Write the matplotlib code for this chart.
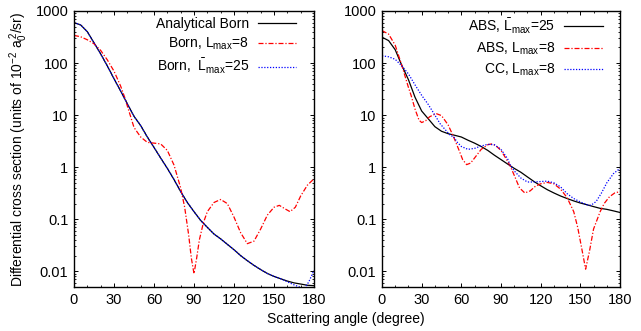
import matplotlib
matplotlib.use("Agg")
import matplotlib.pyplot as plt
from matplotlib.ticker import FixedLocator, LogLocator, NullFormatter, MultipleLocator

plt.rcParams['font.family'] = ['Liberation Sans', 'DejaVu Sans']
plt.rcParams['mathtext.fontset'] = 'custom'
plt.rcParams['mathtext.rm'] = 'Liberation Sans'
plt.rcParams['mathtext.it'] = 'Liberation Sans:italic'
plt.rcParams['font.size'] = 10

# ---- left panel: Born ----
ang_born = [0, 5, 10, 15, 20, 25, 30, 35, 40, 45, 50, 55, 60, 65, 70, 75, 80, 85,
            90, 95, 100, 105, 110, 115, 120, 125, 130, 135, 140, 145, 150, 155,
            160, 165, 170, 175, 180]
analytical_born = [600, 540, 400, 245, 150, 88, 50, 29, 16.5, 9.5, 6.3, 3.8, 2.4,
                   1.5, 0.95, 0.58, 0.34, 0.21, 0.14, 0.095, 0.070, 0.052, 0.042,
                   0.033, 0.026, 0.020, 0.016, 0.013, 0.0108, 0.0091, 0.0080,
                   0.0072, 0.0065, 0.0060, 0.0057, 0.0054, 0.0053]

ang_born25 = [0, 5, 10, 15, 20, 25, 30, 35, 40, 45, 50, 55, 60, 65, 70, 75, 80, 85,
              90, 95, 100, 105, 110, 115, 120, 125, 130, 135, 140, 145, 150, 155,
              160, 165, 170, 173, 176, 178, 180]
born_l25 = [600, 540, 400, 245, 150, 88, 50, 29, 16.5, 9.5, 6.3, 3.8, 2.4,
            1.5, 0.95, 0.58, 0.34, 0.21, 0.14, 0.095, 0.070, 0.052, 0.042,
            0.033, 0.026, 0.020, 0.016, 0.013, 0.0108, 0.0091, 0.0080,
            0.0072, 0.0063, 0.0055, 0.0049, 0.0048, 0.0062, 0.008, 0.0105]

ang_born8 = [0, 5, 10, 15, 20, 25, 30, 35, 38, 40, 45, 50, 55, 60, 65, 70, 75, 80,
             83, 86, 88, 90, 92, 94, 97, 100, 105, 110, 115, 120, 125, 130, 135,
             140, 145, 150, 154, 158, 162, 166, 170, 175, 180]
born_l8 = [340, 320, 280, 235, 175, 115, 70, 36, 22, 15, 5.8, 3.8, 3.0, 2.9, 2.8,
           2.1, 1.1, 0.40, 0.17, 0.05, 0.018, 0.009, 0.018, 0.04, 0.085, 0.14,
           0.21, 0.24, 0.20, 0.11, 0.055, 0.034, 0.038, 0.065, 0.12, 0.17, 0.185,
           0.16, 0.14, 0.17, 0.28, 0.45, 0.6]

# ---- right panel: ABS / CC ----
ang_abs25 = [0, 5, 10, 15, 20, 25, 30, 35, 40, 45, 50, 55, 60, 65, 70, 75, 80, 85,
             90, 95, 100, 105, 110, 115, 120, 125, 130, 135, 140, 145, 150, 155,
             160, 165, 170, 175, 180]
abs_l25 = [314, 270, 180, 90, 48, 22, 12, 8.5, 6.0, 4.9, 4.4, 4.1, 3.8, 3.3, 2.9,
           2.5, 2.1, 1.7, 1.4, 1.15, 0.95, 0.8, 0.65, 0.53, 0.44, 0.37, 0.32,
           0.28, 0.25, 0.225, 0.205, 0.19, 0.175, 0.162, 0.155, 0.145, 0.135]

ang_abs8 = [0, 5, 10, 15, 20, 22, 25, 28, 30, 33, 36, 41, 45, 50, 54, 58, 61, 64,
            67, 70, 75, 80, 83, 86, 90, 95, 97, 100, 104, 108, 112, 116, 120, 125,
            130, 135, 140, 145, 148, 151, 154, 157, 160, 165, 168, 172, 176, 180]
abs_l8 = [420, 360, 220, 90, 34, 24, 13, 8, 7.2, 7.8, 9.3, 10.7, 9.8, 6.5, 3.9,
          2.2, 1.4, 1.12, 1.2, 1.5, 2.2, 2.7, 2.8, 2.6, 2.1, 1.3, 1.05, 0.7, 0.4,
          0.32, 0.35, 0.43, 0.48, 0.51, 0.48, 0.38, 0.26, 0.14, 0.07, 0.028,
          0.011, 0.025, 0.065, 0.14, 0.2, 0.27, 0.32, 0.34]

ang_cc8 = [0, 5, 10, 15, 20, 25, 30, 35, 40, 44, 48, 52, 54, 57, 60, 65, 70, 75,
           80, 85, 90, 95, 97, 100, 105, 110, 115, 120, 125, 130, 135, 140, 145,
           150, 155, 158, 162, 166, 170, 175, 180]
cc_l8 = [138, 132, 118, 88, 62, 38, 24, 16, 10, 6.8, 5.2, 4.0, 3.9, 3.0, 2.5, 2.2,
         2.3, 2.55, 2.75, 2.7, 2.2, 1.45, 1.1, 0.85, 0.62, 0.52, 0.52, 0.53, 0.54,
         0.5, 0.42, 0.31, 0.25, 0.215, 0.19, 0.185, 0.22, 0.32, 0.5, 0.75, 0.95]

yticks = [0.01, 0.1, 1, 10, 100, 1000]
ytick_labels = ['0.01', '0.1', '1', '10', '100', '1000']
xticks = [0, 30, 60, 90, 120, 150, 180]

dashdot = (4, 1.5, 1, 1.5)
dotted = (1, 1.3)

fig = plt.figure(figsize=(6.41, 3.31), dpi=100)
ax1 = fig.add_axes([74/641, 44/331, 240/641, 276/331])
ax2 = fig.add_axes([382/641, 44/331, 238/641, 276/331])

ax1.plot(ang_born, analytical_born, color='black', lw=0.9, label='Analytical Born')
ax1.plot(ang_born8, born_l8, color='red', lw=0.9, dashes=dashdot,
         label=r'Born, $\mathrm{L_{max}}$=8')
ax1.plot(ang_born25, born_l25, color='blue', lw=0.9, dashes=dotted,
         label=r'Born,  $\bar{\mathrm{L}}_{\mathrm{max}}$=25')

ax2.plot(ang_abs25, abs_l25, color='black', lw=0.9,
         label=r'ABS, $\bar{\mathrm{L}}_{\mathrm{max}}$=25')
ax2.plot(ang_abs8, abs_l8, color='red', lw=0.9, dashes=dashdot,
         label=r'ABS, $\mathrm{L_{max}}$=8')
ax2.plot(ang_cc8, cc_l8, color='blue', lw=0.9, dashes=dotted,
         label=r'CC, $\mathrm{L_{max}}$=8')

for ax in (ax1, ax2):
    ax.set_yscale('log')
    ax.set_xlim(0, 180)
    ax.set_ylim(0.005, 1000)
    ax.yaxis.set_major_locator(FixedLocator(yticks))
    ax.set_yticklabels(ytick_labels)
    ax.yaxis.set_minor_locator(LogLocator(base=10, subs=range(2, 10), numticks=20))
    ax.yaxis.set_minor_formatter(NullFormatter())
    ax.set_xticks(xticks)
    ax.xaxis.set_minor_locator(MultipleLocator(10))
    ax.tick_params(which='both', direction='in', top=True, right=True, labelsize=10.5)
    ax.tick_params(which='major', length=3.2, width=0.7, pad=4)
    ax.tick_params(which='minor', length=1.7, width=0.6)
    for s in ax.spines.values():
        s.set_linewidth(1.0)
    ax.legend(loc='upper right', bbox_to_anchor=(1 - 12/240, 1.0),
              frameon=False, markerfirst=False, fontsize=10,
              handlelength=2.8, handletextpad=0.6, labelspacing=0.35,
              borderaxespad=0.0)

fig.text(19/641, 1 - 149/331,
         r'Differential cross section (units of 10$^{-2}$ a$_0^{\,2}$/sr)',
         rotation=90, ha='center', va='center', fontsize=10)
fig.text(346/641, 1 - 319/331, 'Scattering angle (degree)',
         ha='center', va='center', fontsize=10)

fig.savefig('out.png', dpi=100)
